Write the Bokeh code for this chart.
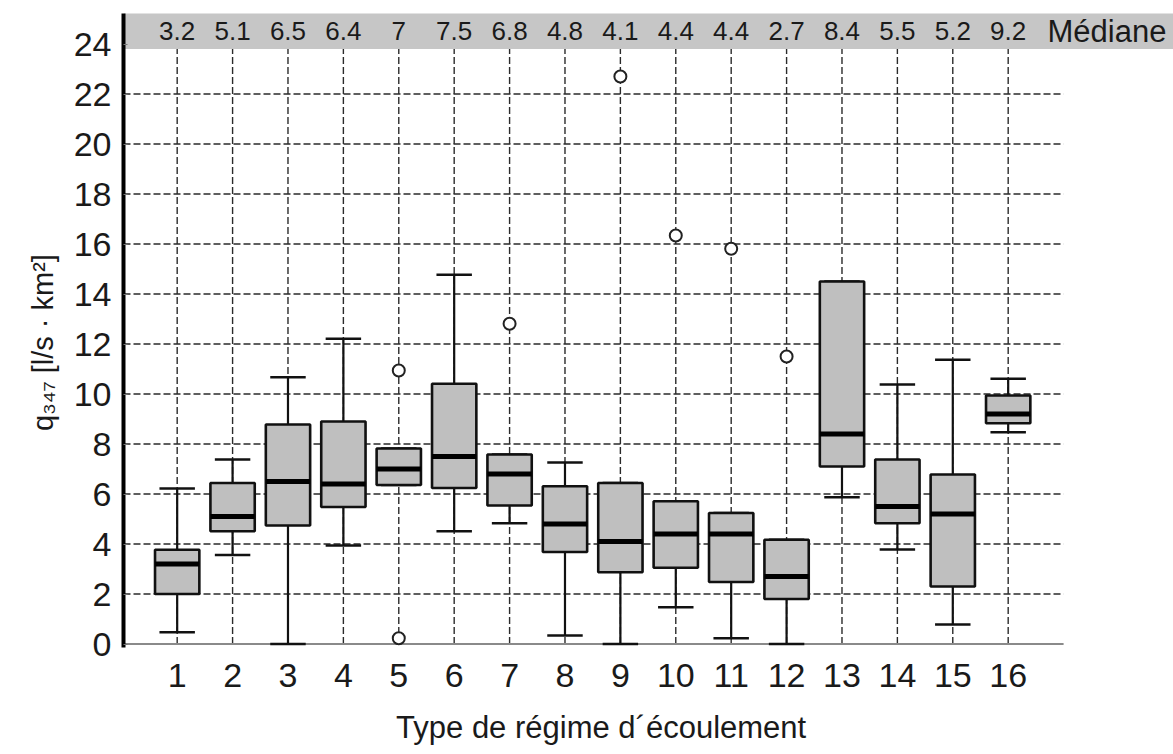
from bokeh.plotting import figure
from bokeh.models import Range1d, FixedTicker
from bokeh.embed import file_html
from bokeh.resources import INLINE
from bokeh.core.properties import value

# ---- data ----
categories = list(range(1, 17))
lower_whisker = [0.47, 3.56, 0.0, 3.94, 6.36, 4.51, 4.83, 0.34, 0.0, 1.47, 0.23, 0.0, 5.87, 3.78, 0.78, 8.47]
q1 = [2.0, 4.51, 4.74, 5.48, 6.36, 6.24, 5.54, 3.68, 2.87, 3.05, 2.48, 1.80, 7.10, 4.83, 2.30, 8.83]
medians = [3.2, 5.1, 6.5, 6.4, 7.0, 7.5, 6.8, 4.8, 4.1, 4.4, 4.4, 2.7, 8.4, 5.5, 5.2, 9.2]
q3 = [3.77, 6.44, 8.78, 8.90, 7.82, 10.41, 7.58, 6.31, 6.44, 5.71, 5.24, 4.17, 14.50, 7.38, 6.78, 9.94]
upper_whisker = [6.22, 7.38, 10.67, 12.21, 7.82, 14.77, 7.58, 7.26, 6.44, 5.71, 5.24, 4.17, 14.50, 10.38, 11.37, 10.61]
median_labels = ["3.2", "5.1", "6.5", "6.4", "7", "7.5", "6.8", "4.8", "4.1", "4.4", "4.4", "2.7", "8.4", "5.5", "5.2", "9.2"]
outlier_x = [5, 5, 7, 9, 10, 11, 12]
outlier_y = [10.94, 0.23, 12.81, 22.7, 16.34, 15.81, 11.5]
y_ticks = list(range(0, 25, 2))
x_tick_labels = [str(c) for c in categories]

# ---- layout constants ----
X_START, X_END = 0.031, 18.984
Y_START, Y_END = -0.14, 25.22
GRID_END = len(categories) + 1
BAND_BOTTOM = 23.8
BAND_MID = 24.52
FONT = "Liberation Sans"
NBSP = "\u00a0"

p = figure(width=1173, height=754, output_backend="svg", toolbar_location=None,
           x_range=Range1d(X_START, X_END), y_range=Range1d(Y_START, Y_END),
           min_border_left=123, min_border_right=0, min_border_top=13, min_border_bottom=107,
           outline_line_color=None, background_fill_color="white", border_fill_color="white")
p.xgrid.visible = False
p.ygrid.visible = False

# band
p.quad(left=[X_START], right=[X_END], bottom=[BAND_BOTTOM], top=[Y_END + 1],
       fill_color="#c6c6c6", line_color=None)

# grid lines
h_grid = [t for t in y_ticks if 0 < t < BAND_BOTTOM]
p.segment(x0=[X_START] * len(h_grid), y0=h_grid, x1=[GRID_END] * len(h_grid), y1=h_grid,
          line_color="#2a2a2a", line_width=1.4, line_dash="7 3")
p.segment(x0=categories, y0=[0] * len(categories), x1=categories, y1=[BAND_BOTTOM] * len(categories),
          line_color="#2a2a2a", line_width=1.4, line_dash="7 3")

# baseline
p.segment(x0=[X_START], y0=[0], x1=[GRID_END], y1=[0], line_color="#8a8a8a", line_width=2)

# whiskers
p.segment(x0=categories, y0=q3, x1=categories, y1=upper_whisker, line_color="#111111", line_width=2.2)
p.segment(x0=categories, y0=q1, x1=categories, y1=lower_whisker, line_color="#111111", line_width=2.2)
cap_half = 0.32
p.segment(x0=[c - cap_half for c in categories], y0=upper_whisker,
          x1=[c + cap_half for c in categories], y1=upper_whisker, line_color="#111111", line_width=2.6)
p.segment(x0=[c - cap_half for c in categories], y0=lower_whisker,
          x1=[c + cap_half for c in categories], y1=lower_whisker, line_color="#111111", line_width=2.6)

# boxes
p.vbar(x=categories, bottom=q1, top=q3, width=0.8, fill_color="#bfbfbf",
       line_color="#111111", line_width=2.6)
p.segment(x0=[c - 0.4 for c in categories], y0=medians, x1=[c + 0.4 for c in categories], y1=medians,
          line_color="#000000", line_width=5)

# outliers
p.scatter(x=outlier_x, y=outlier_y, marker="circle", size=12, fill_color="white",
          line_color="#222222", line_width=2)

# median labels
p.text(x=categories, y=[BAND_MID] * len(categories), text=median_labels,
       text_align="center", text_baseline="middle", text_font=value(FONT),
       text_font_size="26px", text_color="#1a1a1a")
p.text(x=[len(categories) + 0.71], y=[BAND_MID], text=["Médiane"],
       text_align="left", text_baseline="middle", text_font=value(FONT),
       text_font_size="31px", text_color="#1a1a1a")

# axes
ya = p.yaxis[0]
ya.ticker = FixedTicker(ticks=y_ticks)
ya.axis_line_width = 4
ya.axis_line_color = "#000000"
ya.major_tick_in = 4
ya.major_tick_out = 0
ya.major_tick_line_color = "#777777"
ya.minor_tick_line_color = None
ya.major_label_text_font = FONT
ya.major_label_text_font_size = "34px"
ya.major_label_text_color = "#1a1a1a"
ya.major_label_standoff = 12
ya.axis_label = "q\u2083\u2084\u2087 [l/s \u00b7 km\u00b2]" + NBSP * 3
ya.axis_label_text_font = FONT
ya.axis_label_text_font_size = "29px"
ya.axis_label_text_font_style = "normal"
ya.axis_label_text_color = "#1a1a1a"
ya.axis_label_standoff = 12

xa = p.xaxis[0]
xa.ticker = FixedTicker(ticks=categories)
xa.major_label_overrides = {c: lbl for c, lbl in zip(categories, x_tick_labels)}
xa.axis_line_color = None
xa.major_tick_line_color = None
xa.minor_tick_line_color = None
xa.major_label_text_font = FONT
xa.major_label_text_font_size = "34px"
xa.major_label_text_color = "#1a1a1a"
xa.major_label_standoff = 10
xa.axis_label = "Type de régime d\u00b4écoulement" + NBSP * 11
xa.axis_label_text_font = FONT
xa.axis_label_text_font_size = "31px"
xa.axis_label_text_font_style = "normal"
xa.axis_label_text_color = "#1a1a1a"
xa.axis_label_standoff = 20

open("out.html", "w").write(file_html(p, INLINE))
